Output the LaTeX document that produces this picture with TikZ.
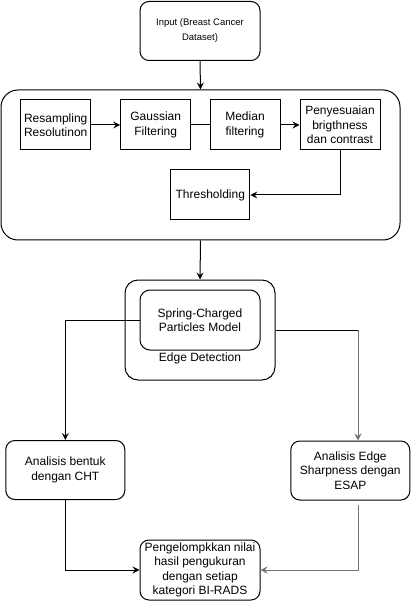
\documentclass[tikz,border=0pt]{standalone}
\usepackage{fontspec}
\setmainfont{Liberation Sans}
\usetikzlibrary{arrows.meta}
\begin{document}
\begin{tikzpicture}[x=1pt,y=1pt,
  box/.style={draw,line width=1pt,minimum width=#1,align=center,inner sep=0pt,
    font=\fontsize{12}{14.5}\selectfont},
  rbox/.style={box=#1,rounded corners=9pt},
  arr/.style={-{Stealth[length=7pt,width=7pt,inset=2.5pt]},line width=1pt},
  ln/.style={line width=1pt},
  gr/.style={draw=black!55}]
\useasboundingbox (0,0) rectangle (411,-601);
\node[rbox=120pt,minimum height=59pt,font=\fontsize{9.5}{15}\selectfont] (input) at (200,-31) {Input (Breast Cancer\\Dataset)};
\node[box=399pt,minimum height=150pt,rounded corners=17pt] (cont) at (200.5,-165) {};
\node[box=70pt,minimum height=50pt] (res) at (55.7,-125) {Resampling\\Resolutinon};
\node[box=70pt,minimum height=50pt] (gau) at (155.7,-125) {Gaussian\\Filtering};
\node[box=70pt,minimum height=50pt] (med) at (245,-125) {Median\\filtering};
\node[box=80pt,minimum height=50pt] (pen) at (340,-125) {Penyesuaian\\brigthness\\dan contrast};
\node[box=79pt,minimum height=50pt] (thr) at (210.3,-195) {Thresholding};
\node[box=150pt,minimum height=100pt,rounded corners=13pt] (outer) at (200,-330) {};
\node[rbox=120pt,minimum height=60pt,rounded corners=10pt] (inner) at (200,-320) {Spring-Charged\\Particles Model};
\node[font=\fontsize{12}{14.5}\selectfont] (edl) at (200,-358.5) {Edge Detection};
\node[rbox=119pt,minimum height=59pt] (ben) at (65.3,-470) {Analisis bentuk\\dengan CHT};
\node[rbox=119pt,minimum height=59pt] (esap) at (350.3,-470.5) {Analisis Edge\\Sharpness dengan\\ESAP};
\node[rbox=120pt,minimum height=60pt] (peng) at (200,-570) {Pengelompkkan nilai\\hasil pengukuran\\dengan setiap\\kategori BI-RADS};
\coordinate (ec) at (358,-330);
\coordinate (eb) at (358,-505);
\draw[arr] (input.south) -- (cont.north);
\draw[arr] (res.east) -- (gau.west);
\draw[ln] (gau.east) -- (med.west);
\draw[arr] (med.east) -- (pen.west);
\draw[arr] (pen.south) |- (thr.east);
\draw[arr] (cont.south) -- (outer.north);
\draw[arr] (inner.west) -| (ben.north);
\draw[ln] (outer.east) -- (ec);
\draw[arr,gr] (ec) -- (ec |- esap.north);
\draw[arr] (ben.south) |- (peng.west);
\draw[arr,gr] (eb) |- (peng.east);
\end{tikzpicture}
\end{document}
